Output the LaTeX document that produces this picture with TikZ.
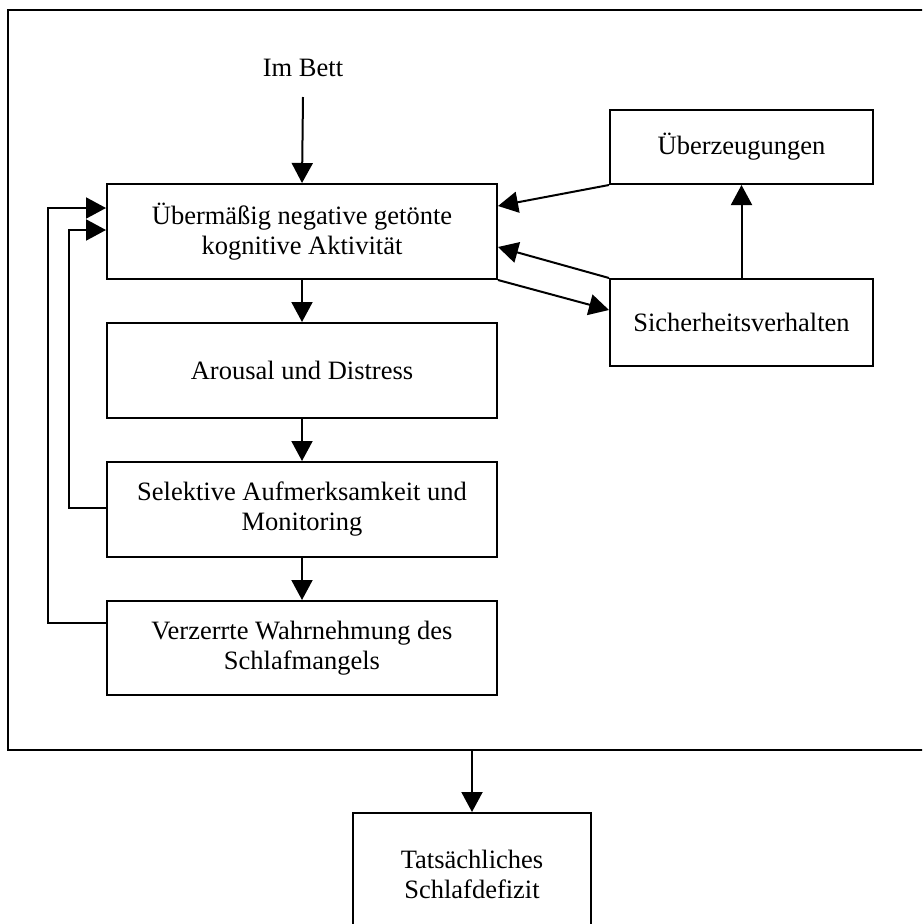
\documentclass[tikz,border=0pt]{standalone}
\usepackage{fontspec}
\setmainfont{Liberation Serif}
\usetikzlibrary{arrows.meta,calc}
\begin{document}
\begin{tikzpicture}[x=1pt,y=-1pt,
  txt/.style={font=\fontsize{26.5}{30}\selectfont,align=center},
  box/.style={txt,draw,line width=2pt,minimum width=390pt,minimum height=95pt,inner sep=0pt},
  rbox/.style={txt,draw,line width=2pt,minimum width=263pt,inner sep=0pt},
  arr/.style={line width=2pt,-{Triangle[length=20pt,width=21pt]}}]
\useasboundingbox (0,0) rectangle (922,924);
\clip (0,0) rectangle (922,924);
\node[draw,line width=2.5pt,minimum width=932pt,minimum height=740pt,inner sep=0pt] (outer) at (474,380) {};
\node[txt] (bett) at (303,68) {Im Bett};
\node[box] (main) at (302,231.5) {Übermäßig negative getönte\\kognitive Aktivität};
\node[box] (arou) at (302,370.5) {Arousal und Distress};
\node[box] (sel) at (302,509.5) {Selektive Aufmerksamkeit und\\Monitoring};
\node[box,minimum height=94pt] (verz) at (302,648) {Verzerrte Wahrnehmung des\\Schlafmangels};
\node[rbox,minimum height=74pt] (ueb) at (741.5,147) {Überzeugungen};
\node[rbox,minimum height=87pt] (sich) at (741.5,322.5) {Sicherheitsverhalten};
\node[txt,draw,line width=2pt,minimum width=238pt,minimum height=122pt,inner sep=0pt] (tat) at (472,874) {Tatsächliches\\Schlafdefizit};
% vertical chain
\draw[arr] ([yshift=-29pt]bett.center) -- (main.north);
\draw[arr] (main.south) -- (arou.north);
\draw[arr] (arou.south) -- (sel.north);
\draw[arr] (sel.south) -- (verz.north);
% feedback loops
\draw[arr] ([yshift=-23pt]verz.north west) -- ++(-58,0) |- ([yshift=-25pt]main.north west);
\draw[arr] ([yshift=-47pt]sel.north west) -- ++(-37,0) |- ([yshift=-47pt]main.north west);
% right side
\draw[arr] (ueb.south west) -- ([yshift=-23pt]main.north east);
\draw[arr] (sich.north west) -- ([yshift=-64pt]main.north east);
\draw[arr] (main.south east) -- ([yshift=-32pt]sich.north west);
\draw[arr] (sich.north) -- (ueb.south);
% to bottom
\draw[arr] (outer.south -| tat.north) -- (tat.north);
\end{tikzpicture}
\end{document}
